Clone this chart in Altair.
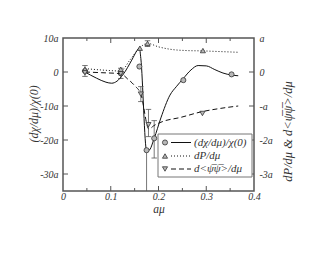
import altair as alt
import pandas as pd

# ---- data ----
# solid curve (left axis): (dchi/dmu)/chi(0)
solid_x = [0.046, 0.07, 0.09, 0.102, 0.113, 0.126, 0.144, 0.155, 0.160, 0.163, 0.175, 0.180,
           0.191, 0.205, 0.224, 0.238, 0.252, 0.268, 0.283, 0.300, 0.318, 0.335, 0.353, 0.367]
solid_y = [0.0, -1.8, -3.0, -3.3, -2.7, -0.7, 3.5, 6.3, 7.1, 4.0, -23.0, -23.0,
           -19.5, -13.5, -6.8, -4.2, -1.9, 0.6, 1.9, 1.8, 0.7, -0.3, -0.9, -1.1]
circ_x = [0.046, 0.121, 0.160, 0.175, 0.191, 0.252, 0.353]
circ_y = [0.3, -0.4, 1.6, -23.0, -19.5, -2.4, -0.7]
errL_x = [0.046, 0.121, 0.191]
errL_lo = [-1.3, -1.9, -25.3]
errL_hi = [1.9, 1.1, -14.3]
vline_x = [0.175]
vline_lo = [-35.0]
vline_hi = [-23.0]

# dotted curve (right axis): dP/dmu
dot_x = [0.046, 0.08, 0.121, 0.14, 0.161, 0.177, 0.20, 0.224, 0.26, 0.293, 0.33, 0.367]
dot_y = [0.10, 0.06, 0.03, 0.35, 0.72, 0.84, 0.74, 0.67, 0.63, 0.62, 0.60, 0.58]
up_x = [0.046, 0.121, 0.161, 0.177, 0.293]
up_y = [0.08, 0.08, 0.70, 0.84, 0.63]

# dashed curve (right axis): d<psibar psi>/dmu
dash_x = [0.046, 0.08, 0.121, 0.135, 0.15, 0.163, 0.180, 0.19, 0.21, 0.245, 0.29, 0.33, 0.367]
dash_y = [0.0, -0.02, -0.05, -0.2, -0.4, -0.65, -1.68, -1.58, -1.45, -1.34, -1.17, -1.07, -1.0]
dn_x = [0.046, 0.121, 0.163, 0.179, 0.292]
dn_y = [-0.02, -0.05, -0.65, -1.55, -1.22]
errR_x = [0.177, 0.163, 0.179]
errR_lo = [0.75, -0.87, -1.90]
errR_hi = [0.92, -0.43, -1.10]

x_major = [0.1, 0.2, 0.3]
x_minor = [0.05, 0.15, 0.25, 0.35]
yL_ticks = [-30, -20, -10, 0]
yR_ticks = [-3, -2, -1, 0]

legend_labels = ["(dχ/dμ)/χ(0)", "dP/dμ", "d<ψ̅ψ̅>/dμ"]

W, H = 191, 153
FONT = "Liberation Serif, Times New Roman, serif"
INK = "#111111"
GREY = "#555555"
FILL = "#b8b8b8"
TXT = "#333333"

xscale = alt.Scale(domain=[0, 0.4], nice=False, zero=False)
xaxis = alt.Axis(values=[0, 0.1, 0.2, 0.3, 0.4], ticks=False, domain=False, grid=False,
                 labelFont=FONT, labelFontStyle="italic", labelFontSize=10, labelColor=TXT,
                 labelPadding=0, labelFlush=False, labelOverlap=False,
                 labelExpr="datum.value == 0 ? '0' : format(datum.value, '.1f')",
                 title="aμ", titleFont=FONT, titleFontStyle="italic", titleFontSize=11.5,
                 titleFontWeight="normal", titleColor=TXT,
                 titleX=W / 2, titleY=18, titleBaseline="middle", titleAlign="center")
yLscale = alt.Scale(domain=[-35, 10], nice=False, zero=False)
yLaxis = alt.Axis(values=[-30, -20, -10, 0, 10], ticks=False, domain=False, grid=False,
                  labelFont=FONT, labelFontStyle="italic", labelFontSize=10, labelColor=TXT,
                  labelPadding=5, labelFlush=False, labelOverlap=False,
                  labelExpr="datum.value == 0 ? '0' : datum.value + 'a'",
                  title="(dχ/dμ)/χ(0)", titleFont=FONT, titleFontStyle="italic", titleFontSize=12,
                  titleFontWeight="normal", titleColor=TXT,
                  titleX=-30, titleY=H / 2 - 1, titleBaseline="middle", titleAlign="center")
yRscale = alt.Scale(domain=[-3.5, 1], nice=False, zero=False)
yRaxis = alt.Axis(orient="right", values=[-3, -2, -1, 0, 1], ticks=False, domain=False, grid=False,
                  labelFont=FONT, labelFontStyle="italic", labelFontSize=10, labelColor=TXT,
                  labelPadding=5, labelFlush=False, labelOverlap=False,
                  labelExpr="datum.value == 0 ? '0' : (datum.value == 1 ? 'a' : (datum.value == -1 ? '-a' : datum.value + 'a'))",
                  title="dP/dμ  &  d<ψ̅ψ̅>/dμ", titleFont=FONT, titleFontStyle="italic", titleFontSize=12.5,
                  titleFontWeight="normal", titleColor=TXT, titleAngle=270,
                  titleX=33, titleY=93, titleBaseline="middle", titleAlign="center")


def X(f):
    return alt.X(f, type="quantitative", scale=xscale, axis=xaxis)


def YL(f):
    return alt.Y(f, type="quantitative", scale=yLscale, axis=yLaxis)


def YR(f):
    return alt.Y(f, type="quantitative", scale=yRscale, axis=yRaxis)


solid_df = pd.DataFrame({"x": solid_x, "y": solid_y})
circ_df = pd.DataFrame({"x": circ_x, "y": circ_y})
errL_df = pd.DataFrame({"x": errL_x, "lo": errL_lo, "hi": errL_hi})
vline_df = pd.DataFrame({"x": vline_x, "lo": vline_lo, "hi": vline_hi})
dot_df = pd.DataFrame({"x": dot_x, "y": dot_y})
up_df = pd.DataFrame({"x": up_x, "y": up_y})
dash_df = pd.DataFrame({"x": dash_x, "y": dash_y})
dn_df = pd.DataFrame({"x": dn_x, "y": dn_y})
errR_df = pd.DataFrame({"x": errR_x, "lo": errR_lo, "hi": errR_hi})

MS = 26  # marker size

# ---- left-scale group ----
errL_rule = alt.Chart(errL_df).mark_rule(color=GREY, strokeWidth=0.8).encode(
    x=X("x"), y=YL("lo"), y2=alt.Y2("hi"))
errL_lo_cap = alt.Chart(errL_df).mark_point(shape="stroke", size=30, stroke=GREY, strokeWidth=0.8,
                                           opacity=1).encode(x=X("x"), y=YL("lo"))
errL_hi_cap = alt.Chart(errL_df).mark_point(shape="stroke", size=30, stroke=GREY, strokeWidth=0.8,
                                           opacity=1).encode(x=X("x"), y=YL("hi"))
vline = alt.Chart(vline_df).mark_rule(color=GREY, strokeWidth=0.8).encode(
    x=X("x"), y=YL("lo"), y2=alt.Y2("hi"))
solid = alt.Chart(solid_df).mark_line(color=INK, strokeWidth=1, interpolate="monotone").encode(
    x=X("x"), y=YL("y"), order="x:Q")
circles = alt.Chart(circ_df).mark_point(shape="circle", filled=True, fill=FILL, stroke="#333",
                                        strokeWidth=0.8, size=MS, opacity=1).encode(x=X("x"), y=YL("y"))

xmaj_df = pd.DataFrame({"v": x_major})
xmin_df = pd.DataFrame({"v": x_minor})
tick_kw = dict(color=GREY, strokeWidth=1)
xt_top_maj = alt.Chart(xmaj_df).mark_rule(**tick_kw).encode(x=X("v"), y=alt.value(0), y2=alt.value(5))
xt_top_min = alt.Chart(xmin_df).mark_rule(**tick_kw).encode(x=X("v"), y=alt.value(0), y2=alt.value(3))
xt_bot_maj = alt.Chart(xmaj_df).mark_rule(**tick_kw).encode(x=X("v"), y=alt.value(H - 5), y2=alt.value(H))
xt_bot_min = alt.Chart(xmin_df).mark_rule(**tick_kw).encode(x=X("v"), y=alt.value(H - 3), y2=alt.value(H))
yl_t = alt.Chart(pd.DataFrame({"v": yL_ticks})).mark_rule(**tick_kw).encode(
    y=YL("v"), x=alt.value(0), x2=alt.value(5))

left = alt.layer(xt_top_maj, xt_top_min, xt_bot_maj, xt_bot_min, yl_t,
                 errL_rule, errL_lo_cap, errL_hi_cap, vline, solid, circles)

# ---- right-scale group ----
dotted = alt.Chart(dot_df).mark_line(color=INK, strokeWidth=1, strokeDash=[1, 2],
                                     interpolate="monotone").encode(x=X("x"), y=YR("y"), order="x:Q")
dashed = alt.Chart(dash_df).mark_line(color=INK, strokeWidth=1, strokeDash=[5, 3],
                                      interpolate="monotone").encode(x=X("x"), y=YR("y"), order="x:Q")
errR_rule = alt.Chart(errR_df).mark_rule(color=GREY, strokeWidth=0.8).encode(
    x=X("x"), y=YR("lo"), y2=alt.Y2("hi"))
errR_lo_cap = alt.Chart(errR_df).mark_point(shape="stroke", size=30, stroke=GREY, strokeWidth=0.8,
                                           opacity=1).encode(x=X("x"), y=YR("lo"))
errR_hi_cap = alt.Chart(errR_df).mark_point(shape="stroke", size=30, stroke=GREY, strokeWidth=0.8,
                                           opacity=1).encode(x=X("x"), y=YR("hi"))
ups = alt.Chart(up_df).mark_point(shape="triangle-up", filled=True, fill=FILL, stroke="#333",
                                  strokeWidth=0.8, size=MS, opacity=1).encode(x=X("x"), y=YR("y"))
dns = alt.Chart(dn_df).mark_point(shape="triangle-down", filled=True, fill=FILL, stroke="#333",
                                  strokeWidth=0.8, size=MS, opacity=1).encode(x=X("x"), y=YR("y"))
yr_t = alt.Chart(pd.DataFrame({"v": yR_ticks})).mark_rule(**tick_kw).encode(
    y=YR("v"), x=alt.value(W - 5), x2=alt.value(W))

# legend (drawn in pixel space of the plot)
one = pd.DataFrame({"k": [0]})
LX0, LX1, LY0, LY1 = 95, 189, 96, 139
rows_y = [104.5, 118, 131]
shapes = ["circle", "triangle-up", "triangle-down"]
dashes = [[1, 0], [1, 2], [5, 3]]
leg_layers = [alt.Chart(one).mark_rect(fill="white", stroke="#777", strokeWidth=1).encode(
    x=alt.value(LX0), x2=alt.value(LX1), y=alt.value(LY0), y2=alt.value(LY1))]
for lab, shp, dsh, ry in zip(legend_labels, shapes, dashes, rows_y):
    leg_layers.append(alt.Chart(one).mark_rule(color=INK, strokeWidth=1, strokeDash=dsh).encode(
        x=alt.value(108), x2=alt.value(128), y=alt.value(ry)))
    leg_layers.append(alt.Chart(one).mark_point(shape=shp, filled=True, fill=FILL, stroke="#333",
                                                strokeWidth=0.8, size=MS, opacity=1).encode(
        x=alt.value(102), y=alt.value(ry)))
    leg_layers.append(alt.Chart(pd.DataFrame({"t": [lab]})).mark_text(
        align="left", baseline="middle", font=FONT, fontStyle="italic", fontSize=11, color=TXT).encode(
        x=alt.value(131), y=alt.value(ry), text="t:N"))

right = alt.layer(yr_t, dotted, dashed, errR_rule, errR_lo_cap, errR_hi_cap, ups, dns, *leg_layers)

chart = alt.layer(left, right).resolve_scale(y="independent").properties(
    width=W, height=H,
    padding={"left": 55, "top": 30, "right": 68, "bottom": 56},
    autosize=alt.AutoSizeParams(type="none"),
    background="white",
).configure_view(stroke="#555", strokeWidth=1.5)

chart.save("out.html", embed_options={"renderer": "svg", "actions": False})
